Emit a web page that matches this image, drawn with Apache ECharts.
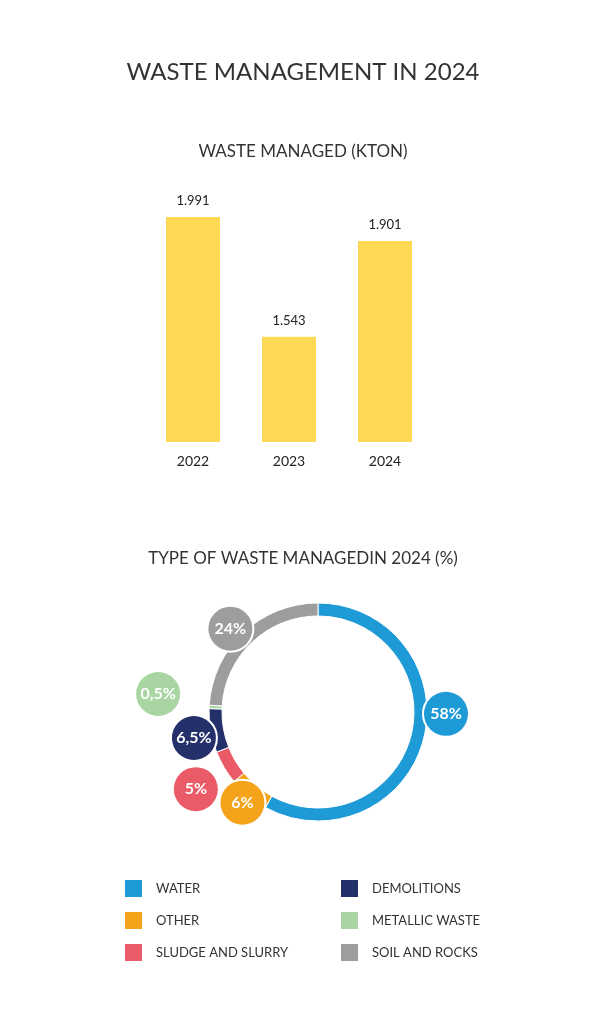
<!DOCTYPE html>
<html><head><meta charset="utf-8">
<script src="https://cdn.jsdelivr.net/npm/echarts@6/dist/echarts.min.js"></script>
<style>html,body{margin:0;background:#fff}#c{width:606px;height:1035px}</style>
</head><body><div id="c"></div>
<script>
const years = ['2022', '2023', '2024']
const managed = [1991, 1543, 1901]
const managedLabels = ['1.991', '1.543', '1.901']
const types = ['WATER', 'OTHER', 'SLUDGE AND SLURRY', 'DEMOLITIONS', 'METALLIC WASTE', 'SOIL AND ROCKS']
const shares = [58, 6, 5, 6.5, 0.5, 24]
const shareLabels = ['58%', '6%', '5%', '6,5%', '0,5%', '24%']
const colors = ['#1e9ad6', '#f5a31a', '#eb5b67', '#24306a', '#a8d5a2', '#9d9d9d']
// nudges of the bubble labels from their slice middle
const bubbleOffsets = [[4, -30], [6, -8], [-12, 12], [2, 4], [-32, -12], [0, 10]]

const chart = echarts.init(document.getElementById('c'))
const font = 'Lato'
const pieData = types.map((t, i) => ({ name: t, value: shares[i], itemStyle: { color: colors[i] } }))

chart.setOption({
  textStyle: { fontFamily: font },
  title: [
    { text: 'WASTE MANAGEMENT IN 2024', left: 'center', top: 55, textStyle: { fontSize: 24, fontWeight: 'normal', color: '#333', fontFamily: font } },
    { text: 'WASTE MANAGED (KTON)', left: 'center', top: 138, textStyle: { fontSize: 17, fontWeight: 'normal', color: '#333', fontFamily: font } },
    { text: 'TYPE OF WASTE MANAGEDIN 2024 (%)', left: 'center', top: 545, textStyle: { fontSize: 17, fontWeight: 'normal', color: '#333', fontFamily: font } }
  ],
  grid: { left: 145, width: 288, top: 217, height: 225 },
  xAxis: {
    type: 'category', data: years,
    axisLine: { show: false }, axisTick: { show: false },
    axisLabel: { fontSize: 14, color: '#222', margin: 12 }
  },
  yAxis: { type: 'value', min: 1150, max: 1991, show: false, splitLine: { show: false } },
  legend: [
    { orient: 'vertical', left: 118, top: 873, itemWidth: 19, itemHeight: 19, itemGap: 11, icon: 'rect',
      data: ['WATER', 'OTHER', 'SLUDGE AND SLURRY'], textStyle: { fontSize: 13, color: '#333', padding: [0, 0, 0, 8] } },
    { orient: 'vertical', left: 334, top: 873, itemWidth: 19, itemHeight: 19, itemGap: 11, icon: 'rect',
      data: ['DEMOLITIONS', 'METALLIC WASTE', 'SOIL AND ROCKS'], textStyle: { fontSize: 13, color: '#333', padding: [0, 0, 0, 8] } }
  ],
  series: [
    {
      type: 'bar', data: managed, barWidth: 54,
      itemStyle: { color: '#fdd955' },
      label: { show: true, position: 'top', distance: 10, fontSize: 13, color: '#222',
        formatter: p => managedLabels[p.dataIndex] }
    },
    {
      type: 'pie', center: [318, 712], radius: [96, 109], startAngle: 90, silent: true,
      data: pieData, label: { show: false }, labelLine: { show: false },
      itemStyle: { borderColor: '#fff', borderWidth: 1 }
    },
    {
      type: 'pie', center: [318, 712], radius: [113, 137], startAngle: 90, silent: true,
      legendHoverLink: false, avoidLabelOverlap: false,
      labelLayout: { hideOverlap: false },
      data: pieData.map((d, i) => ({
        name: d.name + ' ', value: d.value, itemStyle: { color: 'transparent' },
        label: { backgroundColor: colors[i], offset: bubbleOffsets[i] }
      })),
      label: {
        show: true, position: 'inside',
        formatter: p => shareLabels[p.dataIndex],
        width: 44, height: 44, lineHeight: 44, align: 'center', borderRadius: 24,
        borderColor: '#fff', borderWidth: 2, color: '#fff', fontSize: 16, fontWeight: 'bold'
      }
    }
  ]
})
</script></body></html>
